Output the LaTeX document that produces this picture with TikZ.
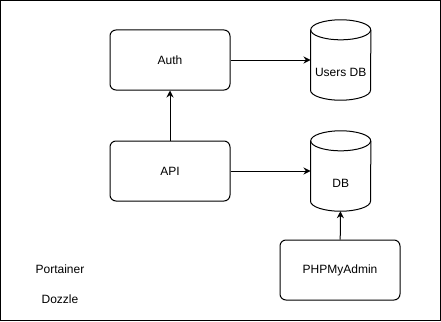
\documentclass[tikz,border=0pt]{standalone}
\usepackage{fontspec}
\setmainfont{Liberation Sans}
\usepackage{tikz}
\usetikzlibrary{positioning, arrows.meta}

\begin{document}
\begin{tikzpicture}[
    x=1pt, y=-1pt,
    >={Stealth[width=7pt,length=7pt]},
    every node/.style={font=\fontsize{12}{14}\selectfont},
    service/.style={rectangle, draw=black, line width=1pt, rounded corners=6pt, align=center, minimum width=120pt, minimum height=60pt},
    store/.style={rectangle, minimum width=60pt, minimum height=80pt, align=center},
    link/.style={->, line width=1pt},
    node distance=80pt % boxes and stores sit 80pt apart
]

% Frame
\useasboundingbox (0,0) rectangle (441,321);
\draw[line width=1pt] (0.5,0.5) rectangle (440.5,320.5);

% Nodes
\node[service] (auth) at (170,60) {Auth};
\node[service] (api) [below=50pt of auth] {API};
\node[store] (usersdb) [right=of auth] {\raisebox{-12pt}[\height][\depth]{Users DB}};
\node[store] (db) [right=of api] {\raisebox{-12pt}[\height][\depth]{DB}};
\node[service] (pma) at (340,270) {PHPMyAdmin};

\node (portainer) at (60,269) {Portainer};
\node (dozzle) at (60,299) {Dozzle};

% Cylinders round the stores
\foreach \c in {usersdb, db} {
    \draw[line width=1pt] ([yshift=-10pt]\c.north) ellipse [x radius=30pt, y radius=10pt];
    \draw[line width=1pt] ([yshift=-10pt]\c.north west) -- ([yshift=10pt]\c.south west)
        arc[start angle=180, end angle=360, x radius=30pt, y radius=10pt]
        -- ([yshift=-10pt]\c.north east);
}

% Connectors
\draw[link] (auth) -- (usersdb);
\draw[link] (api) -- (db);
\draw[link] (api) -- (auth);
\draw[link] (pma) -- (db);

\end{tikzpicture}
\end{document}
